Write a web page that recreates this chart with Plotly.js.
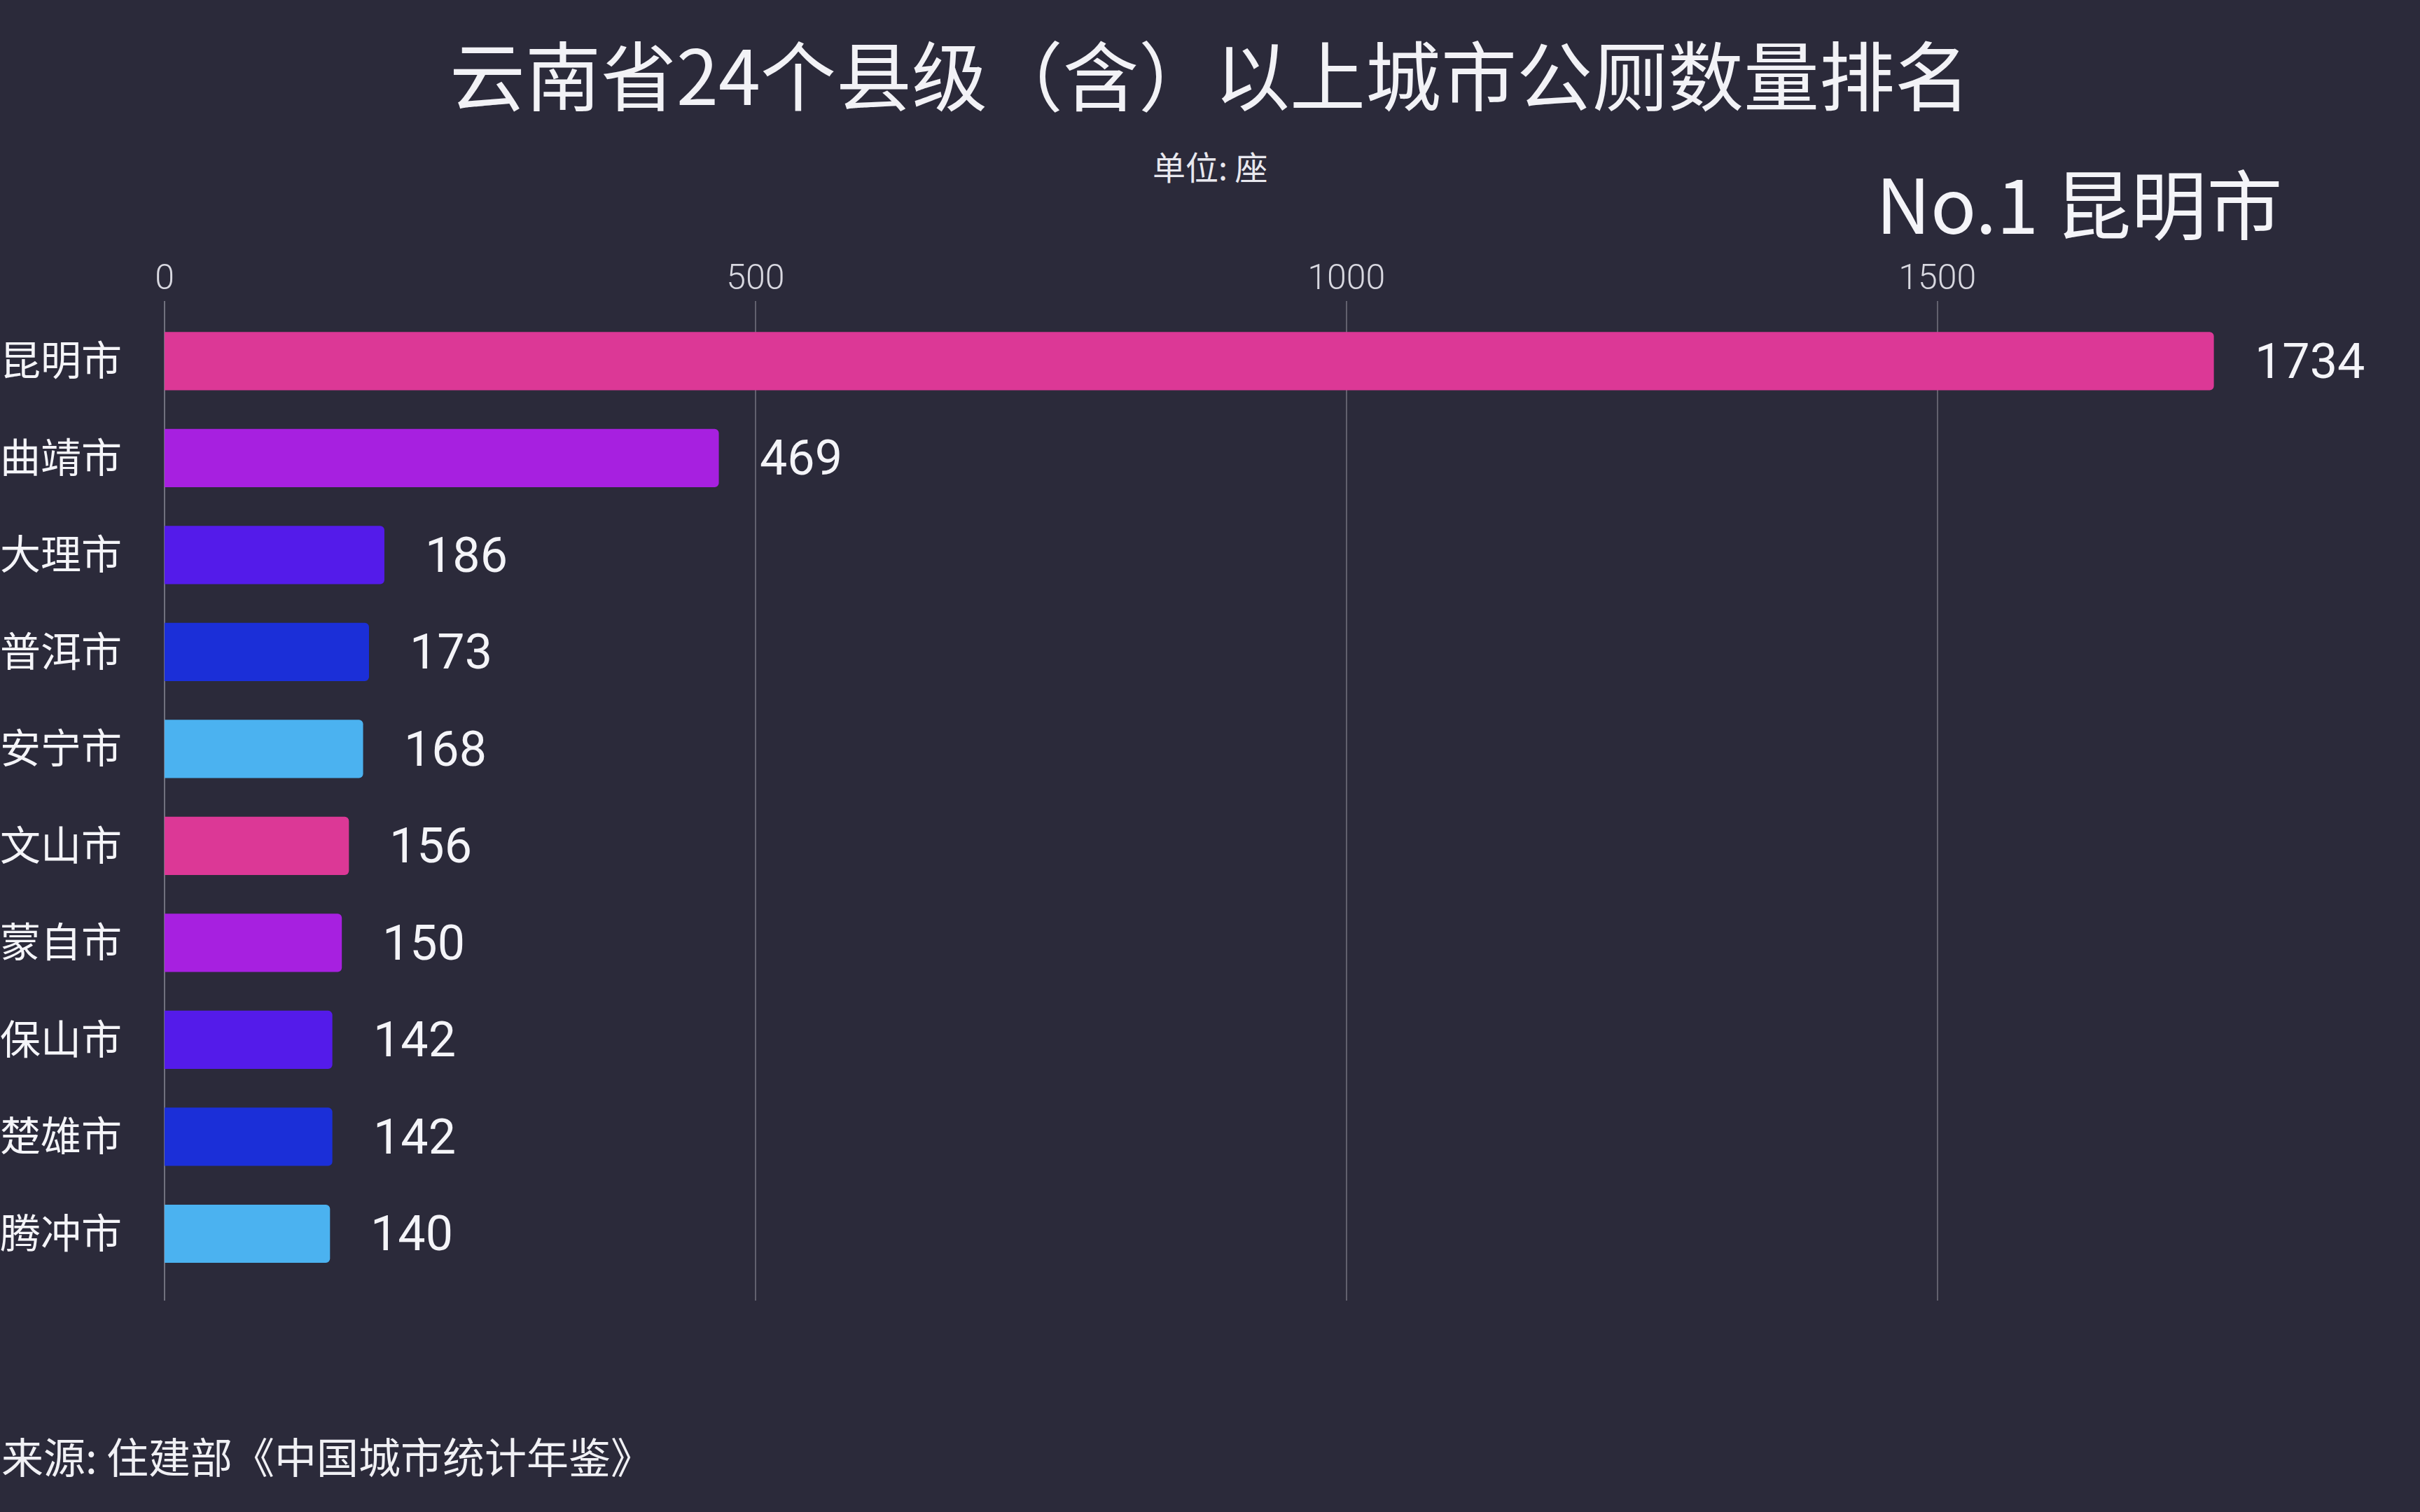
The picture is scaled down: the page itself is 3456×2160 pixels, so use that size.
<!DOCTYPE html>
<html>
<head>
<meta charset="utf-8">
<script src="https://cdn.plot.ly/plotly-3.0.1.min.js"></script>
<style>
html,body{margin:0;padding:0;background:#2b2a3a;}
#chart{width:3456px;height:2160px;}
</style>
</head>
<body>
<div id="chart"></div>
<script>
const cities = ["昆明市","曲靖市","大理市","普洱市","安宁市","文山市","蒙自市","保山市","楚雄市","腾冲市"];
const toilets = [1734, 469, 186, 173, 168, 156, 150, 142, 142, 140];
const palette = ["#dc3896","#a720e0","#541bea","#1b2fd8","#4bb2f0"];
const xTicks = [0, 500, 1000, 1500];
const titleText = "云南省24个县级（含）以上城市公厕数量排名";
const unitText = "单位: 座";
const sourceText = "来源: 住建部《中国城市统计年鉴》";

const cjk = '"Noto Sans CJK SC", "Noto Sans", sans-serif';
const numFont = '"Liberation Sans Narrow", Roboto, sans-serif';

const barColors = cities.map((c, i) => palette[i % palette.length]);

const trace = {
  type: 'bar',
  orientation: 'h',
  x: toilets,
  y: cities,
  marker: {color: barColors, cornerradius: 6, line: {width: 0}},
  width: 0.6,
  hoverinfo: 'none'
};

const valueAnns = cities.map((c, i) => ({
  x: toilets[i], y: c, xref: 'x', yref: 'y',
  text: String(toilets[i]), showarrow: false,
  xanchor: 'left', yanchor: 'middle', xshift: 56,
  font: {family: numFont, size: 70, color: '#f4f4f8'}
}));

const layout = {
  width: 3456, height: 2160,
  paper_bgcolor: '#2b2a3a', plot_bgcolor: '#2b2a3a',
  margin: {l: 235, r: 183, t: 430, b: 302, autoexpand: false},
  showlegend: false,
  title: {
    text: titleText,
    font: {family: cjk, size: 108, color: '#f2f2f6'},
    x: 0.5, xanchor: 'center', xref: 'container',
    y: 1 - 112/2160, yanchor: 'middle', yref: 'container'
  },
  xaxis: {
    side: 'top', range: [0, 1800], tickvals: xTicks,
    showgrid: true, gridcolor: 'rgba(200,200,210,0.35)', gridwidth: 2,
    zeroline: true, zerolinecolor: 'rgba(200,200,210,0.45)', zerolinewidth: 2,
    showline: false, ticks: '', ticklabelstandoff: 6,
    tickfont: {family: 'Roboto, sans-serif', size: 50, color: '#d8d8e0', weight: 300},
    automargin: false, fixedrange: true
  },
  yaxis: {
    type: 'category', categoryorder: 'array', categoryarray: cities,
    range: [9.69, -0.62],
    showgrid: false, zeroline: false, showline: false, ticks: '',
    ticklabelstandoff: 60,
    tickfont: {family: cjk, size: 58, color: '#f4f4f8'},
    automargin: false, fixedrange: true
  },
  annotations: valueAnns.concat([
    {xref: 'paper', yref: 'paper', x: (1728-235)/3038, y: (1858-236)/1428,
     text: unitText, showarrow: false, xanchor: 'center', yanchor: 'middle',
     font: {family: cjk, size: 47, color: '#e8e8ee'}},
    {xref: 'paper', yref: 'paper', x: (3262-235)/3038, y: (1858-287)/1428,
     text: 'No.1 ' + cities[0], showarrow: false, xanchor: 'right', yanchor: 'middle',
     font: {family: cjk, size: 108, color: '#f4f4f8'}},
    {xref: 'paper', yref: 'paper', x: (0-235)/3038, y: (1858-2078)/1428,
     text: sourceText, showarrow: false, xanchor: 'left', yanchor: 'middle',
     font: {family: cjk, size: 60, color: '#f0f0f4'}}
  ])
};

Plotly.newPlot('chart', [trace], layout, {displayModeBar: false, staticPlot: true});
</script>
</body>
</html>
